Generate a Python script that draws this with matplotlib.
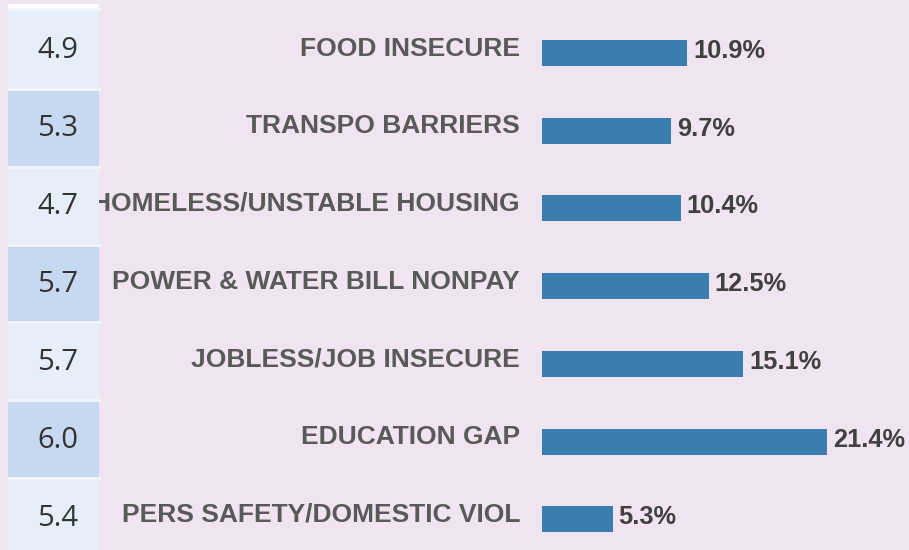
import matplotlib.pyplot as plt
import matplotlib.transforms as mtransforms
from matplotlib.patches import Rectangle

# needs categories, share of patients (%) and mean score per need
categories = ["FOOD INSECURE", "TRANSPO BARRIERS", "HOMELESS/UNSTABLE HOUSING",
              "POWER & WATER BILL NONPAY", "JOBLESS/JOB INSECURE",
              "EDUCATION GAP", "PERS SAFETY/DOMESTIC VIOL"]
percents = [10.9, 9.7, 10.4, 12.5, 15.1, 21.4, 5.3]
scores = [4.9, 5.3, 4.7, 5.7, 5.7, 6.0, 5.4]

bg = "#f0e4f1"
bar_color = "#3a7eb0"
label_color = "#595959"
value_color = "#404040"

W, H, DPI = 909, 550, 100
fig = plt.figure(figsize=(W / DPI, H / DPI), dpi=DPI, facecolor=bg)

# bar panel: x=0 sits at pixel 542, 13.32 px per percent
x0 = 542
ax = fig.add_axes([x0 / W, 0, 1 - x0 / W, 1])
ax.set_facecolor("none")
row_gap = 77.7
first = 53
pos = list(range(len(categories)))
ax.barh(pos, percents, height=26 / row_gap, color=bar_color, zorder=2)
ax.set_xlim(0, (W - x0) / 13.32)
ax.set_ylim((H - first) / row_gap, -first / row_gap)
ax.axis("off")

ytrans = ax.get_yaxis_transform()
lab_tr = mtransforms.offset_copy(ytrans, fig=fig, x=-22, y=4.5, units="dots")
for p, name in zip(pos, categories):
    ax.text(0, p, name, transform=lab_tr, ha="right", va="center",
            fontsize=19, fontweight="bold", color=label_color,
            family="Liberation Sans", clip_on=False)

val_tr = mtransforms.offset_copy(ax.transData, fig=fig, x=6, y=2, units="dots")
for p, v in zip(pos, percents):
    ax.text(v, p, f"{v}%", transform=val_tr, ha="left", va="center",
            fontsize=18.3, fontweight="bold", color=value_color,
            family="Liberation Sans", clip_on=False)

# score column on the left, drawn over the labels
tab = fig.add_axes([0, 0, 1, 1], zorder=5)
tab.set_facecolor("none")
tab.set_xlim(0, W)
tab.set_ylim(H, 0)
tab.axis("off")

left, right = 8, 99
top = 9
edges = [9, 89, 167, 245, 322, 400, 478, 556]
tab.add_patch(Rectangle((left, 4), right - left, top - 4, color="white", lw=0))
for i, s in enumerate(scores):
    y1, y2 = edges[i], edges[i + 1]
    fill = "#e6eef9" if i % 2 == 0 else "#c6d9f0"
    tab.add_patch(Rectangle((left, y1), right - left, y2 - y1,
                            facecolor=fill, edgecolor="none"))
    tab.plot([left, right], [y1, y1], color="#f2f6fc", lw=2)
    tab.text(58, (y1 + y2) / 2 + 1, f"{s:.1f}", ha="center", va="center",
             fontsize=21, color="#333333", family="Open Sans")

fig.savefig("out.png", dpi=DPI, facecolor=bg)
